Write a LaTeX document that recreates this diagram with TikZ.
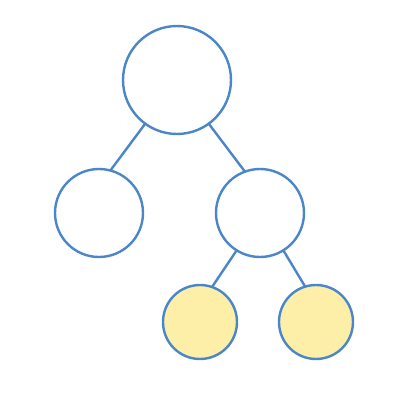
\documentclass[tikz,border=0pt]{standalone}
\usepackage{xcolor}
\usepackage{tikz}
\definecolor{edgeblue}{HTML}{4A86C8}
\definecolor{leafyellow}{HTML}{FDEFA8}
\tikzset{
  vertex/.style={circle, draw=edgeblue, line width=2.4pt, fill=white, inner sep=0pt, outer sep=0pt},
  leaf/.style={vertex, fill=leafyellow},
  branch/.style={draw=edgeblue, line width=2.4pt}
}

\begin{document}
\begin{tikzpicture}[x=1pt, y=1pt]
        \useasboundingbox (0, 0) rectangle (400, 400);

        \node[vertex, minimum size=108pt] (A) at (177, 320) {};
        \node[vertex, minimum size=88pt] (B) at (99, 187) {};
        \node[vertex, minimum size=88pt] (C) at (260, 187) {};
        \node[leaf, minimum size=74pt] (D) at (200, 78) {};
        \node[leaf, minimum size=74pt] (E) at (316, 78) {};

        \draw[branch] (A.234) -- (B.75);
        \draw[branch] (A.306) -- (C.110);
        \draw[branch] (C.238) -- (D.71);
        \draw[branch] (C.302) -- (E.107);
      \end{tikzpicture}
\end{document}
